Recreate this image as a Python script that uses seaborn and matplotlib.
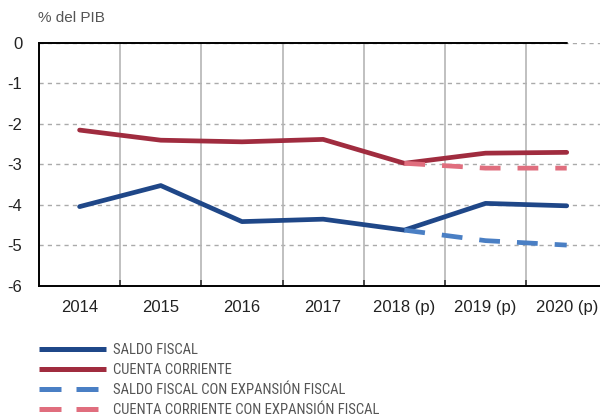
import matplotlib
matplotlib.use("Agg")
import matplotlib.pyplot as plt
import matplotlib.font_manager as fm
from matplotlib.lines import Line2D
import seaborn as sns
import pandas as pd
import numpy as np

years = ["2014", "2015", "2016", "2017", "2018 (p)", "2019 (p)", "2020 (p)"]
saldo_fiscal = [-4.04, -3.52, -4.41, -4.35, -4.62, -3.96, -4.02]
cuenta_corriente = [-2.15, -2.40, -2.44, -2.38, -2.97, -2.72, -2.70]
exp_years = ["2018 (p)", "2019 (p)", "2020 (p)"]
saldo_exp = [-4.62, -4.88, -4.99]
cuenta_exp = [-2.97, -3.09, -3.09]
labels = ["SALDO FISCAL", "CUENTA CORRIENTE",
          "SALDO FISCAL CON EXPANSIÓN FISCAL",
          "CUENTA CORRIENTE CON EXPANSIÓN FISCAL"]
yticks = [0, -1, -2, -3, -4, -5, -6]

sns.set_theme(style="white")
plt.rcParams['font.family'] = ['Liberation Sans', 'DejaVu Sans']

installed = set(fm.fontManager.get_font_names())
cond_font = "Liberation Sans"
for cand in ["Roboto Condensed", "Archivo Narrow", "PT Sans Narrow", "IBM Plex Sans Condensed",
             "Fira Sans Condensed", "Sofia Sans Condensed", "Open Sans Condensed"]:
    if cand in installed:
        cond_font = cand
        break

C_BLUE = "#1f4788"
C_RED = "#a02c3f"
C_LBLUE = "#4a7fc4"
C_PINK = "#e06e7e"

pos = {y: i for i, y in enumerate(years)}
df_main = pd.DataFrame({"x": [pos[y] for y in years], "saldo": saldo_fiscal, "cuenta": cuenta_corriente})
df_exp = pd.DataFrame({"x": [pos[y] for y in exp_years], "saldo": saldo_exp, "cuenta": cuenta_exp})

fig = plt.figure(figsize=(6, 4.17), dpi=100)
ax = fig.add_axes([39/600, 1 - 286/417, 1 - 39/600, (286 - 43)/417])

lw = 3.4
sns.lineplot(data=df_exp, x="x", y="cuenta", ax=ax, color=C_PINK, lw=lw, zorder=3)
sns.lineplot(data=df_exp, x="x", y="saldo", ax=ax, color=C_LBLUE, lw=lw, zorder=3)
for l in ax.lines:
    l.set_dashes((4.4, 3.6))
    l.set_dash_capstyle('butt')
sns.lineplot(data=df_main, x="x", y="cuenta", ax=ax, color=C_RED, lw=lw, zorder=2)
sns.lineplot(data=df_main, x="x", y="saldo", ax=ax, color=C_BLUE, lw=lw, zorder=2)

ax.set_xlim(-0.5, 6.41)
ax.set_ylim(-6, 0)
ax.set_xlabel("")
ax.set_ylabel("")
ax.set_yticks(yticks)
ax.set_yticklabels([str(v) for v in yticks], fontsize=12, color="#222222")
ax.set_xticks(range(len(years)))
ax.set_xticklabels(years, fontsize=12, color="#222222")
ax.set_xticks(np.arange(0.5, 6, 1), minor=True)
ax.tick_params(axis="x", which="major", length=0, pad=10)
ax.tick_params(axis="x", which="minor", length=4, direction="in", color="#333333", width=1.2, bottom=True)
ax.tick_params(axis="y", length=0, pad=12)

ax.grid(False)
for v in yticks[:-1]:
    ax.axhline(v, color="#aaaaaa", lw=1.0, ls=(0, (3, 3)), zorder=0)
ax.xaxis.grid(True, which="minor", color="#b5b5b5", lw=1.2, ls="-", zorder=0)
ax.set_axisbelow(True)

for s in ["top", "right"]:
    ax.spines[s].set_visible(False)
for s in ["left", "bottom"]:
    ax.spines[s].set_color("black")
    ax.spines[s].set_linewidth(1.4)
ax.plot([-0.5, 6.0], [0, 0], color="black", lw=1.4, zorder=4, clip_on=False)

fig.text(38/600, 1 - 18/417, "% del PIB", fontsize=11, color="#555555", va="center", ha="left")

leg_fs = 10.5
fs_px = leg_fs * 100 / 72
handles = [
    Line2D([], [], color=C_BLUE, lw=3.6, solid_capstyle='butt'),
    Line2D([], [], color=C_RED, lw=3.6, solid_capstyle='butt'),
    Line2D([], [], color=C_LBLUE, lw=3.6, dashes=(4.4, 3.0), dash_capstyle='butt'),
    Line2D([], [], color=C_PINK, lw=3.6, dashes=(4.4, 3.0), dash_capstyle='butt'),
]
leg = fig.legend(handles, labels, loc="upper left", bbox_to_anchor=(39/600, 1 - 343/417),
                 frameon=False, handlelength=67/fs_px, handletextpad=7/fs_px, labelspacing=0.42,
                 borderaxespad=0, borderpad=0,
                 prop={"family": [cond_font, "Liberation Sans"], "size": leg_fs})
for t in leg.get_texts():
    t.set_color("#555555")

fig.savefig("out.png", dpi=100)
